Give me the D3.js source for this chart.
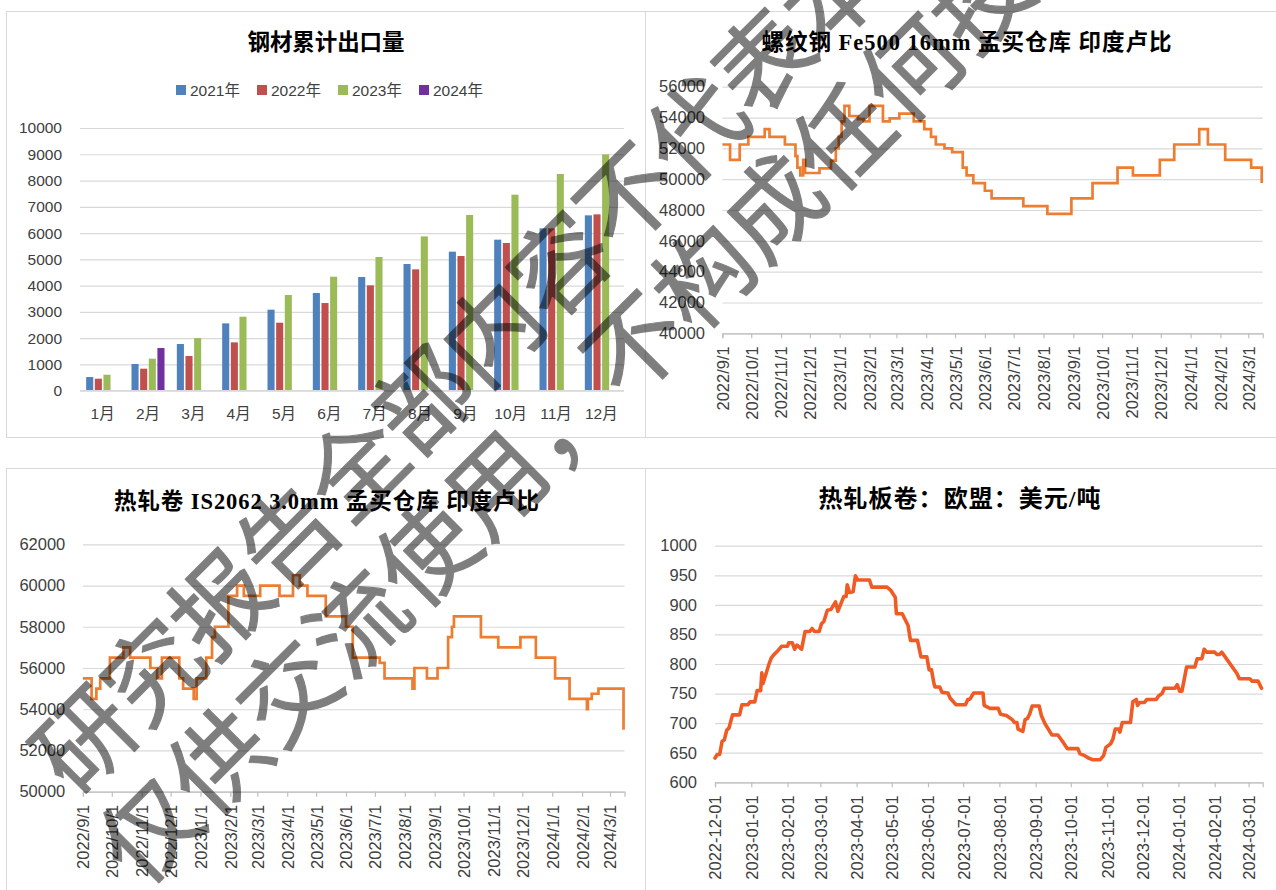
<!DOCTYPE html>
<html><head><meta charset="utf-8">
<script src="https://cdn.jsdelivr.net/npm/d3@7"></script>
<style>body{margin:0;background:#fff;}svg{display:block;}</style>
</head><body>
<script>
// ---------- DATA ----------
const months = ["1月","2月","3月","4月","5月","6月","7月","8月","9月","10月","11月","12月"];
const years = ["2021年","2022年","2023年","2024年"];
const exp2021 = [520, 1015, 1777, 2563, 3084, 3718, 4327, 4822, 5292, 5749, 6180, 6675];
const exp2022 = [457, 838, 1320, 1840, 2589, 3337, 4010, 4619, 5127, 5622, 6180, 6713];
const exp2023 = [609, 1218, 2005, 2817, 3642, 4340, 5089, 5875, 6688, 7462, 8249, 8997];
const exp2024 = [null, 1624, null, null, null, null, null, null, null, null, null, null];
const barTicks = [0,1000,2000,3000,4000,5000,6000,7000,8000,9000,10000];

const rebarDates = ["2022-09-01","2022-09-09","2022-09-19","2022-09-28","2022-10-15","2022-10-20","2022-11-05","2022-11-16","2022-11-18","2022-11-21","2022-11-24","2022-11-26","2022-12-11","2022-12-23","2022-12-28","2022-12-31","2023-01-03","2023-01-06","2023-01-11","2023-01-20","2023-01-26","2023-02-01","2023-02-15","2023-02-22","2023-03-04","2023-03-19","2023-03-30","2023-04-06","2023-04-11","2023-04-20","2023-04-28","2023-05-09","2023-05-13","2023-05-20","2023-06-01","2023-06-08","2023-07-11","2023-08-05","2023-08-30","2023-09-21","2023-10-17","2023-11-02","2023-11-30","2023-12-15","2024-01-10","2024-01-19","2024-02-06","2024-03-04","2024-03-15"];
const rebarValues = [52250,51250,52250,52750,53250,52750,52250,51500,50750,50250,51250,50400,50700,51200,52000,52750,53750,54750,54100,53900,53750,54750,53750,53950,54250,53750,53250,52750,52250,52000,51750,50750,50250,49750,49250,48750,48250,47750,48750,49750,50750,50250,51250,52250,53250,52250,51250,50750,49750];
const rebarTicks = [40000,42000,44000,46000,48000,50000,52000,54000,56000];

const hrcDates = ["2022-09-01","2022-09-10","2022-09-15","2022-09-19","2022-09-29","2022-10-13","2022-10-20","2022-11-10","2022-11-17","2022-11-22","2022-12-10","2022-12-14","2022-12-25","2022-12-28","2023-01-07","2023-01-13","2023-01-16","2023-01-30","2023-02-08","2023-02-15","2023-03-04","2023-03-24","2023-04-07","2023-04-14","2023-04-22","2023-05-11","2023-06-01","2023-06-08","2023-07-06","2023-07-11","2023-08-09","2023-08-11","2023-08-24","2023-09-04","2023-09-15","2023-09-19","2023-09-21","2023-10-19","2023-11-06","2023-11-29","2023-12-15","2024-01-04","2024-01-19","2024-02-06","2024-02-07","2024-02-11","2024-02-18","2024-03-13","2024-03-15"];
const hrcValues = [55500,54500,55000,55500,56500,57000,56500,56000,55500,56500,55500,55000,54500,55500,56500,57500,58000,59500,60000,59500,60000,59500,60500,60000,59500,58500,58000,56500,56250,55500,55000,56000,55500,56000,57500,58000,58500,57500,57000,57500,56500,55500,54500,54000,54500,54750,55000,55000,53000];
const hrcTicks = [50000,52000,54000,56000,58000,60000,62000];

const euDates = ["2022-12-01","2022-12-03","2022-12-05","2022-12-07","2022-12-09","2022-12-11","2022-12-13","2022-12-15","2022-12-16","2022-12-22","2022-12-24","2022-12-29","2022-12-31","2023-01-04","2023-01-06","2023-01-09","2023-01-10","2023-01-11","2023-01-14","2023-01-16","2023-01-18","2023-01-20","2023-01-23","2023-01-27","2023-02-01","2023-02-02","2023-02-05","2023-02-07","2023-02-09","2023-02-13","2023-02-16","2023-02-20","2023-02-22","2023-02-24","2023-02-28","2023-03-02","2023-03-04","2023-03-07","2023-03-10","2023-03-14","2023-03-16","2023-03-21","2023-03-23","2023-03-24","2023-03-26","2023-03-29","2023-03-31","2023-04-02","2023-04-12","2023-04-14","2023-04-27","2023-04-30","2023-05-04","2023-05-05","2023-05-10","2023-05-15","2023-05-17","2023-05-23","2023-05-26","2023-05-31","2023-06-02","2023-06-04","2023-06-06","2023-06-07","2023-06-11","2023-06-13","2023-06-18","2023-06-20","2023-06-25","2023-07-03","2023-07-05","2023-07-07","2023-07-10","2023-07-18","2023-07-19","2023-07-24","2023-07-31","2023-08-02","2023-08-07","2023-08-12","2023-08-14","2023-08-16","2023-08-17","2023-08-21","2023-08-23","2023-08-25","2023-08-27","2023-08-29","2023-09-04","2023-09-06","2023-09-09","2023-09-13","2023-09-15","2023-09-20","2023-09-24","2023-09-28","2023-10-07","2023-10-09","2023-10-13","2023-10-16","2023-10-20","2023-10-26","2023-10-29","2023-10-31","2023-11-04","2023-11-06","2023-11-08","2023-11-11","2023-11-12","2023-11-14","2023-11-21","2023-11-23","2023-11-26","2023-11-27","2023-11-29","2023-12-03","2023-12-05","2023-12-13","2023-12-15","2023-12-18","2023-12-20","2023-12-29","2023-12-31","2024-01-02","2024-01-04","2024-01-08","2024-01-15","2024-01-17","2024-01-21","2024-01-23","2024-01-25","2024-02-01","2024-02-03","2024-02-05","2024-02-07","2024-02-20","2024-02-22","2024-03-02","2024-03-04","2024-03-09","2024-03-12"];
const euValues = [641,647,647,669,672,688,692,707,714,714,731,731,736,736,755,755,785,767,786,799,810,815,821,830,830,836,836,825,832,825,855,855,860,855,855,868,872,891,892,905,889,914,914,934,921,922,949,942,942,930,930,925,913,885,885,865,840,840,812,812,790,790,768,761,761,752,751,742,731,731,740,741,751,751,730,725,725,715,713,706,701,701,690,686,706,708,716,729,729,712,699,686,680,680,669,657,657,648,645,641,638,638,645,659,665,673,690,690,685,701,701,736,740,730,735,735,740,740,746,750,759,759,765,754,754,795,795,809,809,825,820,820,816,816,820,784,775,775,771,771,759];
const euTicks = [600,650,700,750,800,850,900,950,1000];

const titles = ["钢材累计出口量","螺纹钢 Fe500 16mm 孟买仓库 印度卢比","热轧卷 IS2062 3.0mm 孟买仓库 印度卢比","热轧板卷：欧盟：美元/吨"];
const watermark = ["研究报告全部内容不代表本机构观点","仅供交流使用，不构成任何投资建议"];

// ---------- SETUP ----------
const W = 1276, H = 890;
const AXFONT = "'Liberation Sans', Arial, 'Noto Sans CJK SC', sans-serif";
const TFONT = "'Liberation Serif', 'Noto Sans CJK SC', serif";
const TXT = "#404040", GRID = "#d9d9d9", AXC = "#bfbfbf";
const parse = d3.timeParse("%Y-%m-%d");

const svg = d3.select("body").append("svg").attr("width", W).attr("height", H);
svg.append("rect").attr("width", W).attr("height", H).attr("fill", "#fff");

// panel frames
[[6.5,11.5,639,426],[645.5,11.5,640,426],[6.5,468.5,639,430],[645.5,468.5,640,430]].forEach(r => {
  svg.append("rect").attr("x", r[0]).attr("y", r[1]).attr("width", r[2]).attr("height", r[3])
    .attr("fill", "none").attr("stroke", GRID).attr("stroke-width", 1);
});

function title(txt, cx, cy, size, len) {
  svg.append("text").attr("x", cx).attr("y", cy).attr("text-anchor", "middle")
    .attr("dominant-baseline", "central").attr("font-family", TFONT).attr("font-weight", "bold")
    .attr("font-size", size).attr("fill", "#000").attr("textLength", len).text(txt);
}

function yAxis(scale, x0, x1, labelRight, ticks, fs) {
  const g = svg.append("g").attr("transform", `translate(${x0},0)`)
    .call(d3.axisLeft(scale).tickValues(ticks).tickSize(-(x1 - x0)).tickPadding(x0 - labelRight).tickFormat(d3.format("d")));
  g.select(".domain").remove();
  g.selectAll(".tick line").attr("stroke", GRID).attr("stroke-width", 1.2);
  g.selectAll(".tick text").attr("font-family", AXFONT).attr("font-size", fs).attr("fill", TXT);
  return g;
}

function timeXAxis(scale, yPos, ticks, fmt, fs) {
  const g = svg.append("g").attr("transform", `translate(0,${yPos})`)
    .call(d3.axisBottom(scale).tickValues(ticks).tickSize(5).tickFormat(fmt));
  g.select(".domain").attr("stroke", AXC).attr("stroke-width", 1.2);
  g.selectAll(".tick line").attr("stroke", AXC).attr("stroke-width", 1.2);
  g.selectAll(".tick text").attr("font-family", AXFONT).attr("font-size", fs).attr("fill", TXT)
    .attr("transform", "rotate(-90)").attr("text-anchor", "end").attr("x", -13).attr("y", 0).attr("dy", "0.36em");
  return g;
}

// ---------- PANEL 1: bars ----------
title(titles[0], 326, 42, 22.5, 157);
const series = [exp2021, exp2022, exp2023, exp2024];
const colors = ["#4F81BD", "#C0504D", "#9BBB59", "#7030A0"];
// legend
const lg = svg.append("g");
years.forEach((yr, i) => {
  const lx = 176 + i * 81;
  lg.append("rect").attr("x", lx).attr("y", 85).attr("width", 10).attr("height", 10).attr("fill", colors[i]);
  lg.append("text").attr("x", lx + 14).attr("y", 90.5).attr("dominant-baseline", "central")
    .attr("font-family", AXFONT).attr("font-size", 15.5).attr("fill", TXT).text(yr);
});
const x0 = d3.scaleBand().domain(months).range([80, 624]).paddingInner(0.272).paddingOuter(0.136);
const x1 = d3.scaleBand().domain(years).range([0, x0.bandwidth()]).paddingInner(0.18);
const yb = d3.scaleLinear().domain([0, 10000]).range([390.7, 128]);
yAxis(yb, 80, 624, 62, barTicks, 15.5);
const barG = svg.append("g");
months.forEach((m, i) => {
  series.forEach((s, k) => {
    if (s[i] == null) return;
    barG.append("rect").attr("x", x0(m) + x1(years[k])).attr("y", yb(s[i]))
      .attr("width", x1.bandwidth()).attr("height", yb(0) - yb(s[i])).attr("fill", colors[k]);
  });
});
svg.append("line").attr("x1", 80).attr("x2", 624).attr("y1", yb(0)).attr("y2", yb(0)).attr("stroke", GRID).attr("stroke-width", 1.2);
const xa1 = svg.append("g").attr("transform", `translate(0,${yb(0)})`)
  .call(d3.axisBottom(x0).tickSize(0).tickPadding(17));
xa1.select(".domain").remove();
xa1.selectAll(".tick text").attr("font-family", AXFONT).attr("font-size", 15.5).attr("fill", TXT);

// ---------- PANEL 2: rebar ----------
title(titles[1], 966.5, 42, 22.5, 410);
const xr = d3.scaleTime().domain([parse("2022-09-01"), parse("2024-03-16")]).range([722.4, 1262.7]);
const yr2 = d3.scaleLinear().domain([40000, 56000]).range([333.3, 86.7]);
yAxis(yr2, 722.4, 1262.7, 705, rebarTicks, 16.5);
const mTicks = d3.timeMonth.range(parse("2022-09-01"), parse("2024-03-02"));
timeXAxis(xr, yr2(40000), mTicks, d3.timeFormat("%Y/%-m/%-d"), 16.5);
const rebar = rebarDates.map((d, i) => ({date: parse(d), v: rebarValues[i]}));
svg.append("path").datum(rebar).attr("fill", "none").attr("stroke", "#ED7D31").attr("stroke-width", 2.7)
  .attr("d", d3.line().x(d => xr(d.date)).y(d => yr2(d.v)).curve(d3.curveStepAfter));

// ---------- PANEL 3: HRC India ----------
title(titles[2], 326.5, 501, 22.5, 425);
const xh = d3.scaleTime().domain([parse("2022-09-01"), parse("2024-03-16")]).range([82.9, 624.5]);
const yh = d3.scaleLinear().domain([50000, 62000]).range([791.7, 544.3]);
yAxis(yh, 82.9, 624.5, 65.3, hrcTicks, 16.5);
timeXAxis(xh, yh(50000), mTicks, d3.timeFormat("%Y/%-m/%-d"), 16.5);
const hrc = hrcDates.map((d, i) => ({date: parse(d), v: hrcValues[i]}));
svg.append("path").datum(hrc).attr("fill", "none").attr("stroke", "#ED7D31").attr("stroke-width", 2.7)
  .attr("d", d3.line().x(d => xh(d.date)).y(d => yh(d.v)).curve(d3.curveStepAfter));

// ---------- PANEL 4: EU HRC ----------
title(titles[3], 959.5, 499, 24, 282);
const xe = d3.scaleTime().domain([parse("2022-12-01"), parse("2024-03-13")]).range([715, 1262.7]);
const ye = d3.scaleLinear().domain([600, 1000]).range([782.3, 545.7]);
yAxis(ye, 715, 1262.7, 697, euTicks, 16.5);
const eTicks = d3.timeMonth.range(parse("2022-12-01"), parse("2024-03-02"));
timeXAxis(xe, ye(600), eTicks, d3.timeFormat("%Y-%m-%d"), 16.5);
const eu = euDates.map((d, i) => ({date: parse(d), v: euValues[i]}));
svg.append("path").datum(eu).attr("fill", "none").attr("stroke", "#F05A24").attr("stroke-width", 3.6)
  .attr("stroke-linejoin", "round").attr("stroke-linecap", "round")
  .attr("d", d3.line().x(d => xe(d.date)).y(d => ye(d.v)));

// ---------- WATERMARK ----------
const wm = svg.append("g").attr("opacity", 0.5).attr("fill", "#000").attr("stroke", "#000")
  .attr("stroke-width", 1.2).attr("stroke-linejoin", "round")
  .attr("font-family", "'Noto Sans CJK SC', sans-serif").attr("font-size", 97);
[[80, 735, -1], [145, 826, 1]].forEach((p, i) => {
  wm.append("text").attr("transform", `translate(${p[0]},${p[1]}) rotate(-45)`)
    .attr("x", -48.5).attr("dominant-baseline", "central").attr("letter-spacing", p[2])
    .text(watermark[i]);
});
</script>
</body></html>
